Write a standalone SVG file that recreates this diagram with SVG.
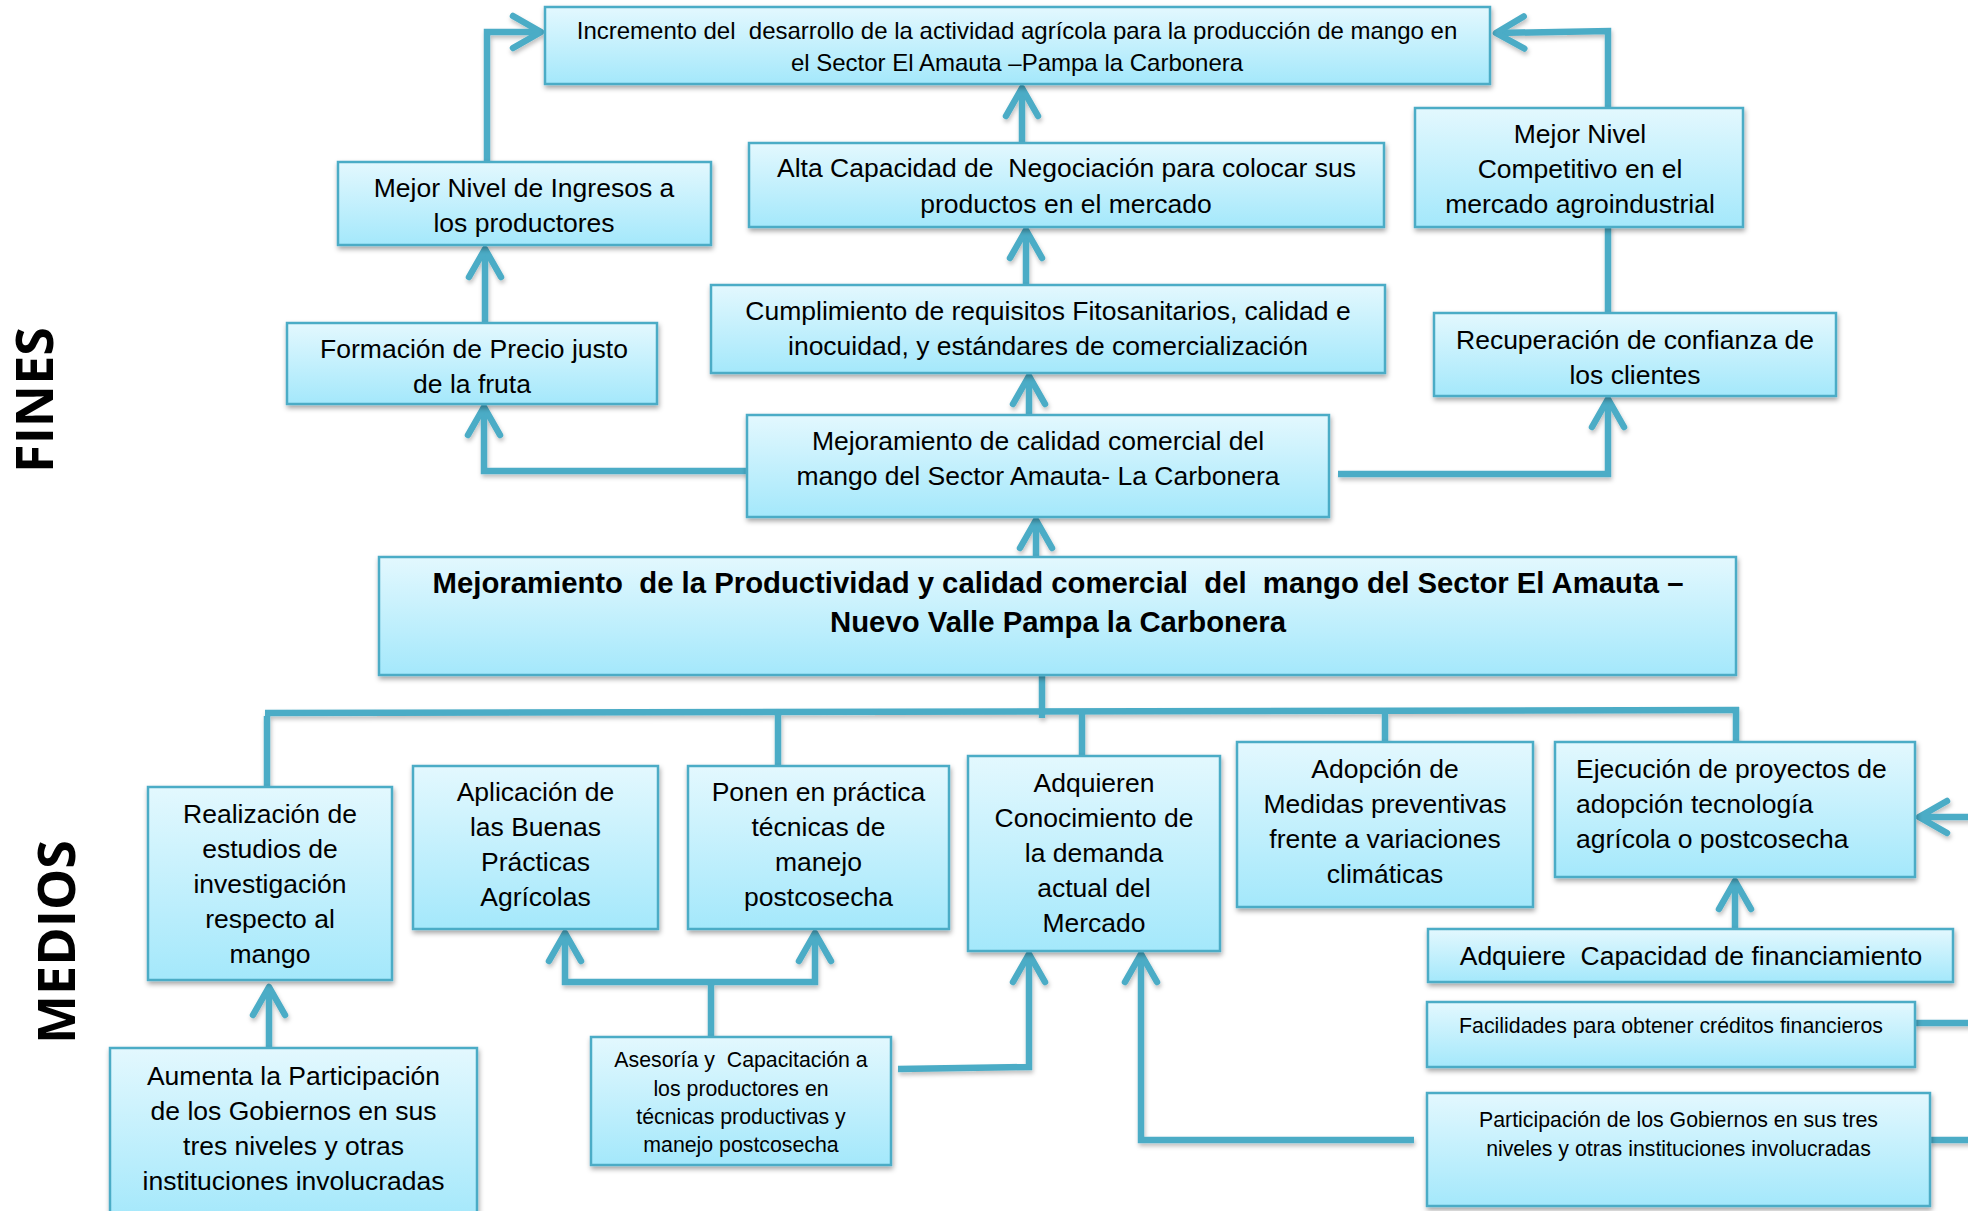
<svg xmlns="http://www.w3.org/2000/svg" width="1968" height="1211" viewBox="0 0 1968 1211">
  <defs>
    <linearGradient id="boxFill" x1="0" y1="0" x2="0" y2="1">
      <stop offset="0" stop-color="#e3f8fe"/>
      <stop offset="1" stop-color="#a4e8fb"/>
    </linearGradient>
    <filter id="shadow" x="-5%" y="-10%" width="115%" height="130%">
      <feDropShadow dx="1" dy="3" stdDeviation="2.5" flood-color="#000" flood-opacity="0.35"/>
    </filter>
    <filter id="lineShadow" x="-5%" y="-5%" width="110%" height="110%">
      <feDropShadow dx="1" dy="3" stdDeviation="2" flood-color="#000" flood-opacity="0.25"/>
    </filter>
    <marker id="chev" markerUnits="userSpaceOnUse" viewBox="-40 -40 80 80" markerWidth="80" markerHeight="80" refX="0" refY="0" orient="auto" overflow="visible">
      <path d="M -28 -16 L 0 0 L -28 16" fill="none" stroke="#4bacc6" stroke-width="6.5" stroke-linecap="round" stroke-linejoin="round"/>
    </marker>
    <clipPath id="clipCompetitivo">
      <rect x="1415" y="108" width="328" height="117"/>
    </clipPath>
    <style>
      .box { fill: url(#boxFill); stroke: #4bacc6; stroke-width: 2.5; filter: url(#shadow); }
      .t { font-family: "Liberation Sans", Arial, sans-serif; font-size: 26.5px; fill: #000; text-anchor: middle; }
      .s24 { font-size: 24px; }
      .s21 { font-size: 21.3px; }
      .b { font-size: 29.3px; font-weight: bold; }
      .left { text-anchor: start; }
      .side { font-family: "Open Sans", "DejaVu Sans", sans-serif; font-size: 52px; font-weight: bold; fill: #000; text-anchor: middle; }
      .link { fill: none; stroke: #4bacc6; stroke-width: 6.5; stroke-linejoin: miter; }
      .arr { marker-end: url(#chev); }
    </style>
  </defs>

  <rect width="1968" height="1211" fill="#ffffff"/>

  <!-- section labels -->
  <text class="side" x="53" y="400" transform="rotate(-90 53 400)">FINES</text>
  <text class="side" x="75" y="942" transform="rotate(-90 75 942)">MEDIOS</text>

  <!-- connectors -->
  <g id="connectors" filter="url(#lineShadow)">
    <!-- ends (fines) -->
    <path class="link arr" d="M 487 162 V 32 H 541"/>
    <path class="link arr" d="M 1022 143 V 88"/>
    <path class="link arr" d="M 1026 285 V 230"/>
    <path class="link arr" d="M 1029 415 V 376"/>
    <path class="link arr" d="M 1036 557 V 520"/>
    <path class="link arr" d="M 748 471 H 484 V 407"/>
    <path class="link arr" d="M 485 323 V 249"/>
    <path class="link arr" d="M 1338 474 H 1608 V 399"/>
    <path class="link" d="M 1608 313 V 226"/>
    <path class="link arr" d="M 1608 108 V 31 L 1496 33"/>
    <!-- means -->
    <path class="link" d="M 1042 675 V 718"/>
    <path class="link" d="M 265 713 L 1739 710"/>
    <path class="link" d="M 267 716 V 787"/>
    <path class="link" d="M 778 712 V 766"/>
    <path class="link" d="M 1082 711 V 756"/>
    <path class="link" d="M 1385 711 V 742"/>
    <path class="link" d="M 1736 707 V 742"/>
    <path class="link arr" d="M 269 1048 V 987"/>
    <path class="link" d="M 711 1037 V 982"/>
    <path class="link" d="M 562 982 H 818"/>
    <path class="link arr" d="M 565 985 V 933"/>
    <path class="link arr" d="M 815 985 V 933"/>
    <path class="link arr" d="M 898 1069 L 1029 1067 V 954"/>
    <path class="link arr" d="M 1414 1140 H 1141 V 954"/>
    <path class="link arr" d="M 1735 929 V 881"/>
    <path class="link arr" d="M 1972 817 H 1919"/>
    <path class="link" d="M 1915 1023 H 1972"/>
    <path class="link" d="M 1930 1140 H 1972"/>
  </g>

  <!-- fines -->
  <g id="incremento">
    <rect class="box" x="545" y="7" width="945" height="77"/>
    <text class="t s24" x="1017" y="39" xml:space="preserve">Incremento del  desarrollo de la actividad agrícola para la producción de mango en</text>
    <text class="t s24" x="1017" y="71">el Sector El Amauta –Pampa la Carbonera</text>
  </g>
  <g id="ingresos">
    <rect class="box" x="338" y="162" width="373" height="83"/>
    <text class="t" x="524" y="197">Mejor Nivel de Ingresos a</text>
    <text class="t" x="524" y="231.5">los productores</text>
  </g>
  <g id="precio">
    <rect class="box" x="287" y="323" width="370" height="81"/>
    <text class="t" x="474" y="358">Formación de Precio justo</text>
    <text class="t" x="472" y="393">de la fruta</text>
  </g>
  <g id="negociacion">
    <rect class="box" x="749" y="143" width="635" height="84"/>
    <text class="t" x="1066.5" y="177" xml:space="preserve">Alta Capacidad de  Negociación para colocar sus</text>
    <text class="t" x="1066" y="212.5">productos en el mercado</text>
  </g>
  <g id="competitivo">
    <rect class="box" x="1415" y="108" width="328" height="119"/>
    <g clip-path="url(#clipCompetitivo)">
      <text class="t" x="1580" y="143">Mejor Nivel</text>
      <text class="t" x="1580" y="178">Competitivo en el</text>
      <text class="t" x="1580" y="213">mercado agroindustrial</text>
    </g>
  </g>
  <g id="requisitos">
    <rect class="box" x="711" y="285" width="674" height="88"/>
    <text class="t" x="1048" y="320">Cumplimiento de requisitos Fitosanitarios, calidad e</text>
    <text class="t" x="1048" y="355">inocuidad, y estándares de comercialización</text>
  </g>
  <g id="confianza">
    <rect class="box" x="1434" y="313" width="402" height="83"/>
    <text class="t" x="1635" y="349">Recuperación de confianza de</text>
    <text class="t" x="1635" y="383.5">los clientes</text>
  </g>
  <g id="calidad">
    <rect class="box" x="747" y="415" width="582" height="102"/>
    <text class="t" x="1038" y="450">Mejoramiento de calidad comercial del</text>
    <text class="t" x="1038" y="485">mango del Sector Amauta- La Carbonera</text>
  </g>

  <!-- central objective -->
  <g id="objetivo">
    <rect class="box" x="379" y="557" width="1357" height="118"/>
    <text class="t b" x="1058" y="593" xml:space="preserve">Mejoramiento  de la Productividad y calidad comercial  del  mango del Sector El Amauta –</text>
    <text class="t b" x="1058" y="632">Nuevo Valle Pampa la Carbonera</text>
  </g>

  <!-- medios -->
  <g id="estudios">
    <rect class="box" x="148" y="787" width="244" height="193"/>
    <text class="t" x="270" y="823">Realización de</text>
    <text class="t" x="270" y="858">estudios de</text>
    <text class="t" x="270" y="893">investigación</text>
    <text class="t" x="270" y="928">respecto al</text>
    <text class="t" x="270" y="963">mango</text>
  </g>
  <g id="bpa">
    <rect class="box" x="413" y="766" width="245" height="163"/>
    <text class="t" x="535.5" y="801">Aplicación de</text>
    <text class="t" x="535.5" y="835.5">las Buenas</text>
    <text class="t" x="535.5" y="870.5">Prácticas</text>
    <text class="t" x="535.5" y="905.5">Agrícolas</text>
  </g>
  <g id="postcosecha">
    <rect class="box" x="688" y="766" width="261" height="163"/>
    <text class="t" x="818.5" y="801">Ponen en práctica</text>
    <text class="t" x="818.5" y="835.5">técnicas de</text>
    <text class="t" x="818.5" y="870.5">manejo</text>
    <text class="t" x="818.5" y="905.5">postcosecha</text>
  </g>
  <g id="demanda">
    <rect class="box" x="968" y="756" width="252" height="195"/>
    <text class="t" x="1094" y="791.5">Adquieren</text>
    <text class="t" x="1094" y="826.5">Conocimiento de</text>
    <text class="t" x="1094" y="861.5">la demanda</text>
    <text class="t" x="1094" y="896.5">actual del</text>
    <text class="t" x="1094" y="931.5">Mercado</text>
  </g>
  <g id="clima">
    <rect class="box" x="1237" y="742" width="296" height="165"/>
    <text class="t" x="1385" y="778">Adopción de</text>
    <text class="t" x="1385" y="813">Medidas preventivas</text>
    <text class="t" x="1385" y="848">frente a variaciones</text>
    <text class="t" x="1385" y="883">climáticas</text>
  </g>
  <g id="proyectos">
    <rect class="box" x="1555" y="742" width="360" height="135"/>
    <text class="t left" x="1576" y="778">Ejecución de proyectos de</text>
    <text class="t left" x="1576" y="813">adopción tecnología</text>
    <text class="t left" x="1576" y="848">agrícola o postcosecha</text>
  </g>
  <g id="financiamiento">
    <rect class="box" x="1428" y="929" width="525" height="53"/>
    <text class="t" x="1691" y="965" xml:space="preserve">Adquiere  Capacidad de financiamiento</text>
  </g>
  <g id="creditos">
    <rect class="box" x="1427" y="1002" width="488" height="65"/>
    <text class="t s21" x="1671" y="1033">Facilidades para obtener créditos financieros</text>
  </g>
  <g id="gobiernos-der">
    <rect class="box" x="1427" y="1093" width="503" height="113"/>
    <text class="t s21" x="1678.5" y="1127">Participación de los Gobiernos en sus tres</text>
    <text class="t s21" x="1678.5" y="1156">niveles y otras instituciones involucradas</text>
  </g>
  <g id="asesoria">
    <rect class="box" x="591" y="1037" width="300" height="128"/>
    <text class="t s21" x="741" y="1067" xml:space="preserve">Asesoría y  Capacitación a</text>
    <text class="t s21" x="741" y="1096">los productores en</text>
    <text class="t s21" x="741" y="1124">técnicas productivas y</text>
    <text class="t s21" x="741" y="1152">manejo postcosecha</text>
  </g>
  <g id="gobiernos-izq">
    <rect class="box" x="110" y="1048" width="367" height="172"/>
    <text class="t" x="293.5" y="1085">Aumenta la Participación</text>
    <text class="t" x="293.5" y="1120">de los Gobiernos en sus</text>
    <text class="t" x="293.5" y="1155">tres niveles y otras</text>
    <text class="t" x="293.5" y="1190">instituciones involucradas</text>
  </g>
</svg>
